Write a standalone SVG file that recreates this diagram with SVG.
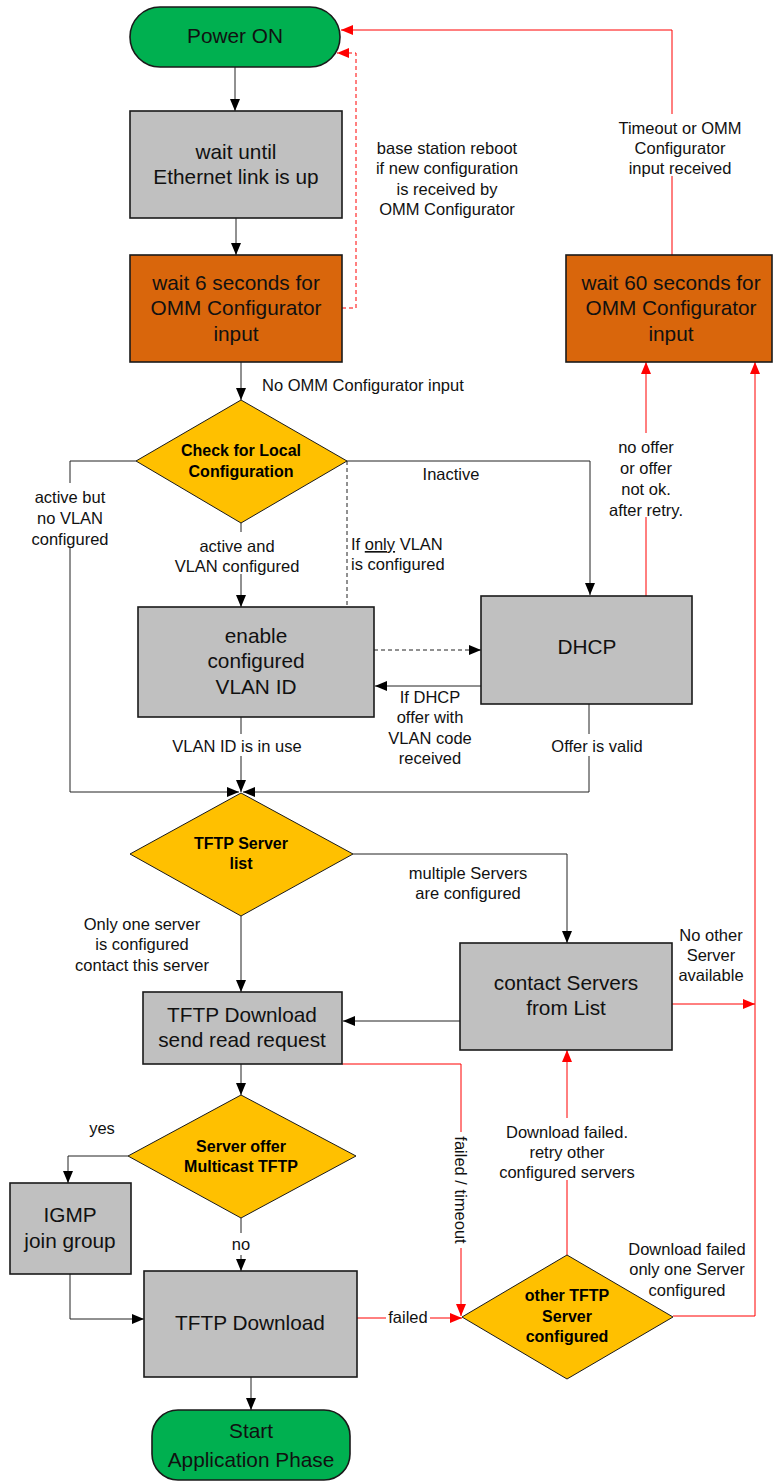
<svg xmlns="http://www.w3.org/2000/svg" width="773" height="1482" viewBox="0 0 773 1482">
<style>
.box{fill:#c0c0c0;stroke:#1a1a1a;stroke-width:1.6}
.org{fill:#d9660c;stroke:#1a1a1a;stroke-width:1.6}
.term{fill:#00b050;stroke:#1a1a1a;stroke-width:1.6}
.dia{fill:#ffc000;stroke:#1a1a1a;stroke-width:1}
.t{font-family:"Liberation Sans",Arial,sans-serif;font-size:20.8px;fill:#111;text-anchor:middle}
.d{font-family:"Liberation Sans",Arial,sans-serif;font-size:16px;font-weight:bold;fill:#000;text-anchor:middle}
.l{font-family:"Liberation Sans",Arial,sans-serif;font-size:16.5px;fill:#111;text-anchor:middle}
.k{fill:none;stroke:#222;stroke-width:1}
.r{fill:none;stroke:#ff0000;stroke-width:1}
.dash{stroke-dasharray:4,3}
.bg{fill:#fff}
</style>
<defs>
<marker id="ab" markerWidth="12" markerHeight="10" refX="12" refY="5" orient="auto" markerUnits="userSpaceOnUse"><path d="M0,0 L12,5 L0,10 z" fill="#000"/></marker>
<marker id="ar" markerWidth="12" markerHeight="10" refX="12" refY="5" orient="auto" markerUnits="userSpaceOnUse"><path d="M0,0 L12,5 L0,10 z" fill="#ff0000"/></marker>
</defs>

<g id="connectors">
<path class="k" d="M235,67 V111" marker-end="url(#ab)"/>
<path class="k" d="M236,218 V255" marker-end="url(#ab)"/>
<path class="k" d="M241,362 V400" marker-end="url(#ab)"/>
<path class="r dash" d="M342,308 H356 V53 H337" marker-end="url(#ar)"/>
<path class="r" d="M672,255 V30 H341" marker-end="url(#ar)"/>
<path class="k" d="M136,461 H70 V792 H239" marker-end="url(#ab)"/>
<path class="k" d="M241,523 V607" marker-end="url(#ab)"/>
<path class="k" d="M347,461 H590 V595" marker-end="url(#ab)"/>
<path class="k dash" d="M347,461 V607"/>
<path class="k dash" d="M374,650 H481" marker-end="url(#ab)"/>
<path class="k" d="M481,686 H375" marker-end="url(#ab)"/>
<path class="k" d="M241,717 V792" marker-end="url(#ab)"/>
<path class="k" d="M589,704 V792 H243" marker-end="url(#ab)"/>
<path class="r" d="M646,596 V362" marker-end="url(#ar)"/>
<path class="k" d="M353,854 H567 V943" marker-end="url(#ab)"/>
<path class="k" d="M241,916 V992" marker-end="url(#ab)"/>
<path class="k" d="M460,1021 H343" marker-end="url(#ab)"/>
<path class="r" d="M672,1004 H755" marker-end="url(#ar)"/>
<path class="r" d="M673,1316 H755 V362" marker-end="url(#ar)"/>
<path class="r" d="M342,1064 H461 V1316" marker-end="url(#ar)"/>
<path class="r" d="M567,1255 V1050" marker-end="url(#ar)"/>
<path class="k" d="M241,1064 V1095" marker-end="url(#ab)"/>
<path class="k" d="M128,1156 H68 V1183" marker-end="url(#ab)"/>
<path class="k" d="M241,1218 V1271" marker-end="url(#ab)"/>
<path class="k" d="M70,1274 V1319 H144" marker-end="url(#ab)"/>
<path class="r" d="M357,1318 H462" marker-end="url(#ar)"/>
<path class="k" d="M251,1377 V1410" marker-end="url(#ab)"/>
</g>

<g id="n-power">
<rect class="term" x="130" y="7" width="210" height="60" rx="30"/>
<text class="t" x="235" y="43">Power ON</text>
</g>
<g id="n-wait-eth">
<rect class="box" x="130" y="111" width="212" height="107"/>
<text class="t" x="236" y="159">wait until</text>
<text class="t" x="236" y="184">Ethernet link is up</text>
</g>
<g id="n-wait6">
<rect class="org" x="130" y="255" width="212" height="107"/>
<text class="t" x="236" y="290">wait 6 seconds for</text>
<text class="t" x="236" y="315">OMM Configurator</text>
<text class="t" x="236" y="341">input</text>
</g>
<g id="n-wait60">
<rect class="org" x="566" y="255" width="206" height="107"/>
<text class="t" x="671" y="290">wait 60 seconds for</text>
<text class="t" x="671" y="315">OMM Configurator</text>
<text class="t" x="671" y="341">input</text>
</g>
<g id="n-check">
<polygon class="dia" points="241,400 347,461 241,523 136,461"/>
<text class="d" x="241" y="456">Check for Local</text>
<text class="d" x="241" y="477">Configuration</text>
</g>
<g id="n-vlan">
<rect class="box" x="138" y="607" width="236" height="110"/>
<text class="t" x="256" y="643">enable</text>
<text class="t" x="256" y="668">configured</text>
<text class="t" x="256" y="694">VLAN ID</text>
</g>
<g id="n-dhcp">
<rect class="box" x="481" y="596" width="211" height="108"/>
<text class="t" x="587" y="654">DHCP</text>
</g>
<g id="n-tftplist">
<polygon class="dia" points="241,793 353,854 241,916 130,854"/>
<text class="d" x="241" y="849">TFTP Server</text>
<text class="d" x="241" y="869">list</text>
</g>
<g id="n-tftpreq">
<rect class="box" x="143" y="992" width="199" height="72"/>
<text class="t" x="242" y="1022">TFTP Download</text>
<text class="t" x="242" y="1047">send read request</text>
</g>
<g id="n-contact">
<rect class="box" x="460" y="943" width="212" height="107"/>
<text class="t" x="566" y="990">contact Servers</text>
<text class="t" x="566" y="1015">from List</text>
</g>
<g id="n-multicast">
<polygon class="dia" points="241,1095 356,1156 241,1218 128,1156"/>
<text class="d" x="241" y="1152">Server offer</text>
<text class="d" x="241" y="1172">Multicast TFTP</text>
</g>
<g id="n-igmp">
<rect class="box" x="10" y="1183" width="121" height="91"/>
<text class="t" x="70" y="1222">IGMP</text>
<text class="t" x="70" y="1248">join group</text>
</g>
<g id="n-download">
<rect class="box" x="144" y="1271" width="213" height="106"/>
<text class="t" x="250" y="1330">TFTP Download</text>
</g>
<g id="n-other">
<polygon class="dia" points="567,1255 673,1317 567,1379 462,1317"/>
<text class="d" x="567" y="1301">other TFTP</text>
<text class="d" x="567" y="1322">Server</text>
<text class="d" x="567" y="1342">configured</text>
</g>
<g id="n-start">
<rect class="term" x="152" y="1410" width="198" height="70" rx="26"/>
<text class="t" x="251" y="1438">Start</text>
<text class="t" x="251" y="1467">Application Phase</text>
</g>

<g id="labels">
<rect class="bg" x="608" y="114" width="146" height="62"/>
<rect class="bg" x="598" y="433" width="96" height="84"/>
<rect class="bg" x="18" y="483" width="104" height="64"/>
<rect class="bg" x="176" y="532" width="128" height="42"/>
<rect class="bg" x="166" y="734" width="142" height="22"/>
<rect class="bg" x="546" y="734" width="104" height="22"/>
<rect class="bg" x="476" y="1118" width="182" height="62"/>
<rect class="bg" x="451" y="1132" width="20" height="116"/>
<rect class="bg" x="386" y="1307" width="44" height="20"/>
<rect class="bg" x="228" y="1233" width="26" height="22"/>
<text class="l" x="262" y="391" style="text-anchor:start">No OMM Configurator input</text>
<text class="l" x="447" y="154">base station reboot</text>
<text class="l" x="447" y="174">if new configuration</text>
<text class="l" x="447" y="195">is received by</text>
<text class="l" x="447" y="215">OMM Configurator</text>
<text class="l" x="680" y="134">Timeout or OMM</text>
<text class="l" x="680" y="154">Configurator</text>
<text class="l" x="680" y="174">input received</text>
<text class="l" x="646" y="453">no offer</text>
<text class="l" x="646" y="474">or offer</text>
<text class="l" x="646" y="495">not ok.</text>
<text class="l" x="646" y="516">after retry.</text>
<text class="l" x="451" y="480">Inactive</text>
<text class="l" x="70" y="503">active but</text>
<text class="l" x="70" y="524">no VLAN</text>
<text class="l" x="70" y="545">configured</text>
<text class="l" x="237" y="552">active and</text>
<text class="l" x="237" y="572">VLAN configured</text>
<text class="l" x="351" y="550" style="text-anchor:start">If <tspan text-decoration="underline">only</tspan> VLAN</text>
<text class="l" x="351" y="570" style="text-anchor:start">is configured</text>
<text class="l" x="430" y="703">If DHCP</text>
<text class="l" x="430" y="723">offer with</text>
<text class="l" x="430" y="744">VLAN code</text>
<text class="l" x="430" y="764">received</text>
<text class="l" x="237" y="752">VLAN ID is in use</text>
<text class="l" x="597" y="752">Offer is valid</text>
<text class="l" x="468" y="879">multiple Servers</text>
<text class="l" x="468" y="899">are configured</text>
<text class="l" x="142" y="930">Only one server</text>
<text class="l" x="142" y="950">is configured</text>
<text class="l" x="142" y="971">contact this server</text>
<text class="l" x="711" y="941">No other</text>
<text class="l" x="711" y="961">Server</text>
<text class="l" x="711" y="981">available</text>
<text class="l" x="567" y="1138">Download failed.</text>
<text class="l" x="567" y="1158">retry other</text>
<text class="l" x="567" y="1178">configured servers</text>
<text class="l" transform="translate(455,1190) rotate(90)">failed / timeout</text>
<text class="l" x="687" y="1255">Download failed</text>
<text class="l" x="687" y="1275">only one Server</text>
<text class="l" x="687" y="1296">configured</text>
<text class="l" x="102" y="1134">yes</text>
<text class="l" x="241" y="1250">no</text>
<text class="l" x="408" y="1323">failed</text>
</g>
</svg>
